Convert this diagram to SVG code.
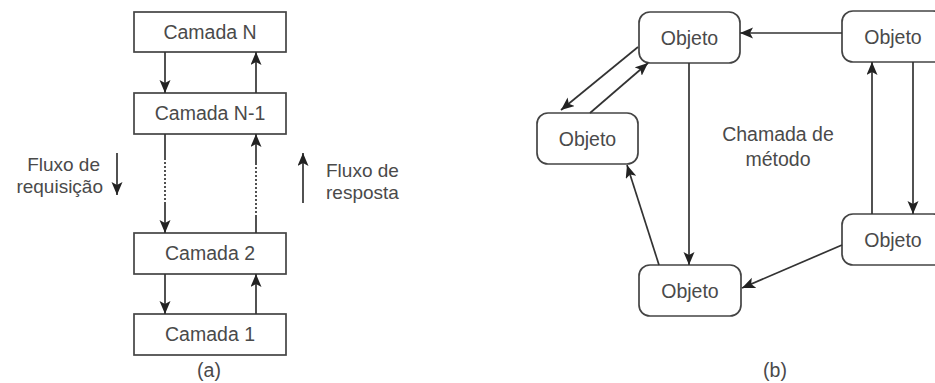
<svg xmlns="http://www.w3.org/2000/svg" width="935" height="383" viewBox="0 0 935 383">
  <style>
    .box { fill: #ffffff; stroke: #444444; stroke-width: 1.7; }
    .lbl { font-family: "Liberation Sans", Arial, sans-serif; font-size: 19.5px; fill: #4a4a4a; text-anchor: middle; }
    .side { font-family: "Liberation Sans", Arial, sans-serif; font-size: 19px; fill: #4a4a4a; }
    .ln { stroke: #333333; stroke-width: 1.7; fill: none; }
    .dot { stroke: #333333; stroke-width: 1.7; fill: none; stroke-dasharray: 2 2; }
  </style>
  <defs>
    <marker id="arr" markerUnits="userSpaceOnUse" markerWidth="15" markerHeight="12" refX="13" refY="5.5" orient="auto">
      <path d="M0,0 L13,5.5 L0,11 L3,5.5 Z" fill="#222222"/>
    </marker>
  </defs>

  <rect width="935" height="383" fill="#ffffff"/>

  <!-- (a) layered architecture -->
  <g id="camada-n">
    <rect class="box" x="134" y="12" width="152" height="40"/>
    <text class="lbl" x="210" y="39">Camada N</text>
  </g>
  <g id="camada-n-1">
    <rect class="box" x="134" y="93" width="152" height="41"/>
    <text class="lbl" x="210" y="120">Camada N-1</text>
  </g>
  <g id="camada-2">
    <rect class="box" x="134" y="233" width="152" height="41"/>
    <text class="lbl" x="210" y="260">Camada 2</text>
  </g>
  <g id="camada-1">
    <rect class="box" x="134" y="314" width="152" height="41"/>
    <text class="lbl" x="210" y="341">Camada 1</text>
  </g>

  <g id="fluxo-requisicao">
    <text class="side" x="100" y="171" text-anchor="end">Fluxo de</text>
    <text class="side" x="103" y="193" text-anchor="end">requisição</text>
    <line class="ln" x1="117" y1="153" x2="117" y2="195" marker-end="url(#arr)"/>
  </g>
  <g id="fluxo-resposta">
    <text class="side" x="326" y="177">Fluxo de</text>
    <text class="side" x="326" y="199">resposta</text>
    <line class="ln" x1="303" y1="203" x2="303" y2="153" marker-end="url(#arr)"/>
  </g>

  <text class="lbl" x="209" y="377">(a)</text>

  <!-- (b) distributed objects -->
  <g id="objeto-a">
    <rect class="box" x="639" y="12" width="101" height="51" rx="11"/>
    <text class="lbl" x="689.5" y="44.5">Objeto</text>
  </g>
  <g id="objeto-b">
    <rect class="box" x="842" y="11" width="102" height="51" rx="11"/>
    <text class="lbl" x="893" y="43.5">Objeto</text>
  </g>
  <g id="objeto-c">
    <rect class="box" x="537" y="113" width="101" height="51" rx="11"/>
    <text class="lbl" x="587.5" y="145.5">Objeto</text>
  </g>
  <g id="objeto-d">
    <rect class="box" x="639" y="265" width="102" height="51" rx="11"/>
    <text class="lbl" x="690" y="297.5">Objeto</text>
  </g>
  <g id="objeto-e">
    <rect class="box" x="842" y="214" width="102" height="51" rx="11"/>
    <text class="lbl" x="893" y="246.5">Objeto</text>
  </g>

  <text class="lbl" x="778" y="141">Chamada de</text>
  <text class="lbl" x="778" y="166">método</text>
  <text class="lbl" x="775" y="377">(b)</text>

  <g id="connectors">
    <!-- (a) -->
    <line class="ln" x1="165" y1="52" x2="165" y2="93" marker-end="url(#arr)"/>
    <line class="ln" x1="256" y1="93" x2="256" y2="52" marker-end="url(#arr)"/>
    <line class="ln" x1="165" y1="134" x2="165" y2="158"/>
    <line class="dot" x1="165" y1="158" x2="165" y2="203"/>
    <line class="ln" x1="165" y1="203" x2="165" y2="233" marker-end="url(#arr)"/>
    <line class="ln" x1="256" y1="233" x2="256" y2="217"/>
    <line class="dot" x1="256" y1="217" x2="256" y2="163"/>
    <line class="ln" x1="256" y1="163" x2="256" y2="134" marker-end="url(#arr)"/>
    <line class="ln" x1="165" y1="274" x2="165" y2="314" marker-end="url(#arr)"/>
    <line class="ln" x1="256" y1="314" x2="256" y2="274" marker-end="url(#arr)"/>
    <!-- (b) -->
    <line class="ln" x1="842" y1="33" x2="740" y2="33" marker-end="url(#arr)"/>
    <line class="ln" x1="638" y1="47" x2="561" y2="110" marker-end="url(#arr)"/>
    <line class="ln" x1="590" y1="113" x2="648" y2="63" marker-end="url(#arr)"/>
    <line class="ln" x1="689" y1="63" x2="689" y2="265" marker-end="url(#arr)"/>
    <line class="ln" x1="659" y1="265" x2="627" y2="165" marker-end="url(#arr)"/>
    <line class="ln" x1="872" y1="214" x2="872" y2="62" marker-end="url(#arr)"/>
    <line class="ln" x1="913" y1="62" x2="913" y2="214" marker-end="url(#arr)"/>
    <line class="ln" x1="842" y1="245" x2="742" y2="288" marker-end="url(#arr)"/>
  </g>
</svg>
